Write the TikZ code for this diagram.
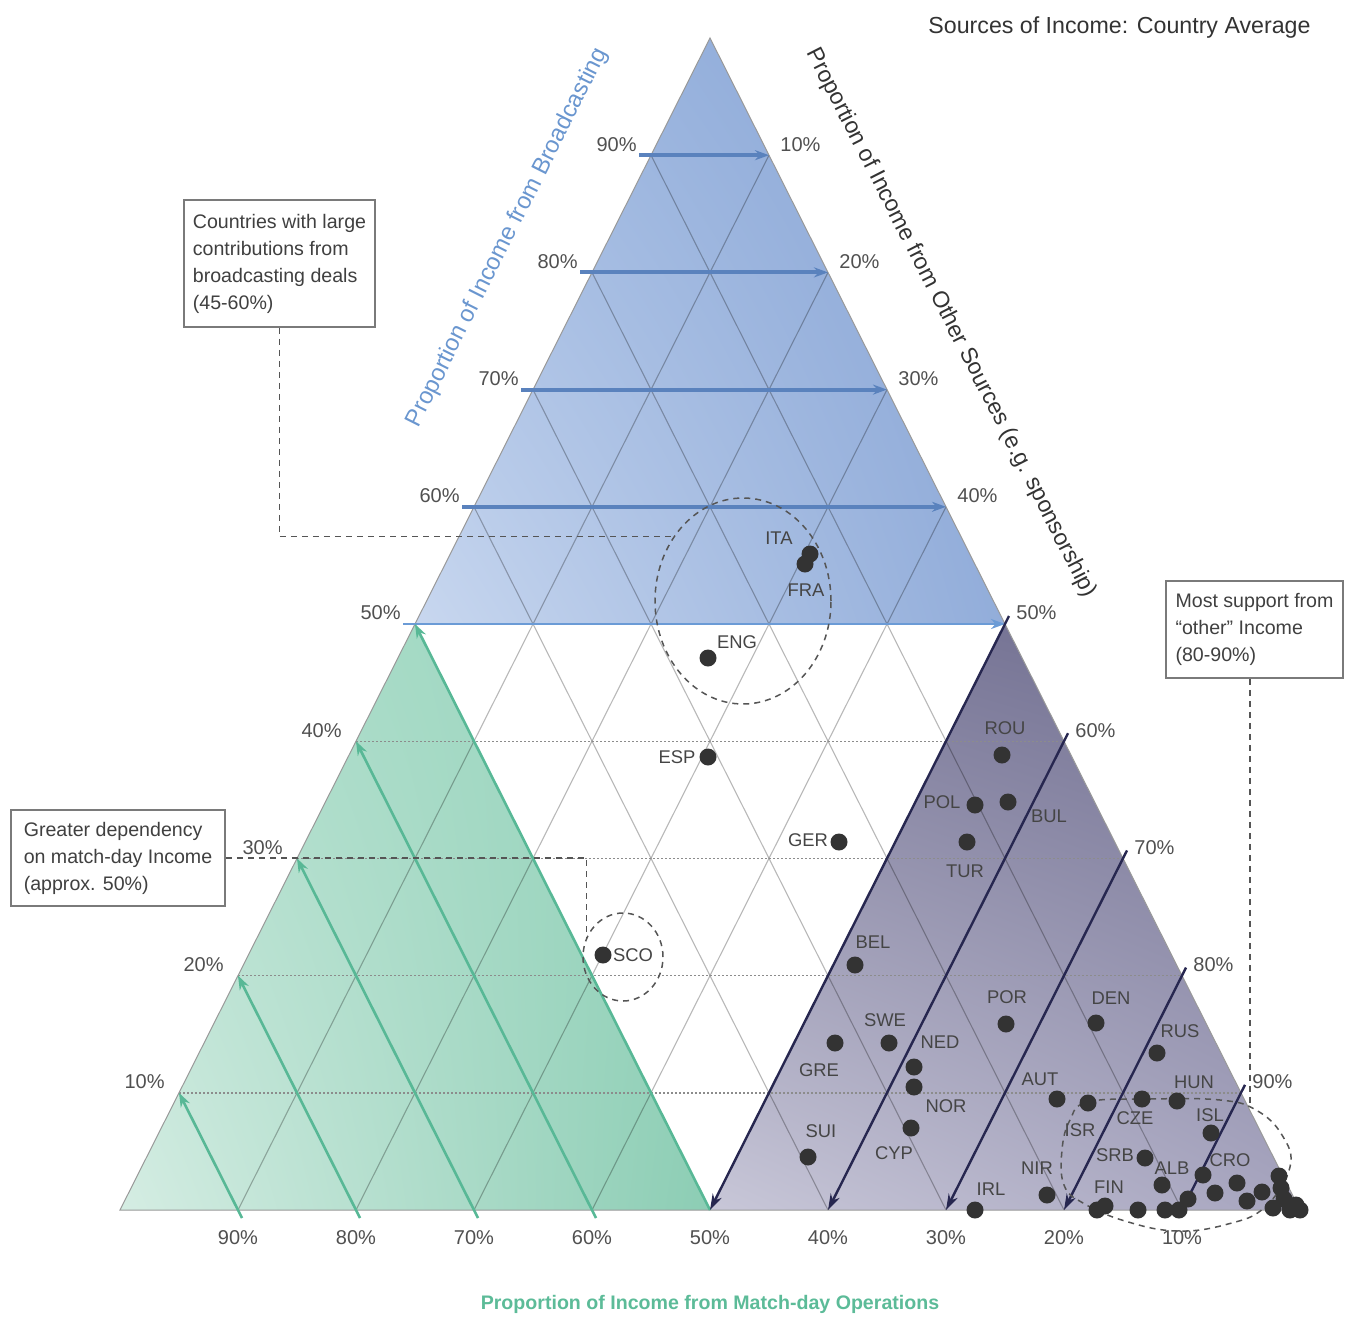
\documentclass[tikz,border=0pt]{standalone}
\usepackage{fontspec}
\setmainfont{Liberation Sans}
\usetikzlibrary{arrows.meta,shapes.geometric,calc,shadings}
\definecolor{blueaxis}{HTML}{5A82BD}
\definecolor{blueaxistwo}{HTML}{6B9BD6}
\definecolor{greenaxis}{HTML}{58B896}
\definecolor{navyaxis}{HTML}{272750}
\definecolor{pcttext}{HTML}{505050}
\definecolor{labtext}{HTML}{454545}
\definecolor{dotcol}{HTML}{333333}
\definecolor{boxline}{HTML}{7A7A7A}
\definecolor{boxtext}{HTML}{404040}
\definecolor{dashcol}{HTML}{555555}
\definecolor{bluelabel}{HTML}{6A96CF}
\definecolor{greenlabel}{HTML}{5CBB98}
\definecolor{titletext}{HTML}{333333}
\definecolor{bUL}{HTML}{A3BCE3}
\definecolor{bUR}{HTML}{86A3D4}
\definecolor{bLL}{HTML}{C8D7EF}
\definecolor{bLR}{HTML}{92ADDA}
\definecolor{gUL}{HTML}{B2DFCD}
\definecolor{gUR}{HTML}{96D4BC}
\definecolor{gLL}{HTML}{D5EDE3}
\definecolor{gLR}{HTML}{8CCDB4}
\definecolor{pUL}{HTML}{7F7D9C}
\definecolor{pUR}{HTML}{6E6C8E}
\definecolor{pLL}{HTML}{C8C7D8}
\definecolor{pLR}{HTML}{A7A5BF}
\begin{document}
\begin{tikzpicture}[x=0.5pt,y=-0.5pt,
  gridline/.style={draw=black,draw opacity=0.28,line width=0.55pt},
  hdot/.style={draw=black!45,line width=0.7pt,dash pattern=on 1pt off 1pt},
  bluearr/.style={draw=blueaxis,line width=2pt,-{Stealth[length=7pt,width=5pt]}},
  greenarr/.style={draw=greenaxis,line width=1.3pt,-{Stealth[length=7pt,width=5pt]}},
  purparr/.style={draw=navyaxis,line width=1.2pt,-{Stealth[length=8pt,width=5pt]}},
  pct/.style={font=\fontsize{10}{12}\selectfont,text=pcttext,inner sep=0pt},
  clab/.style={font=\fontsize{9.2}{11}\selectfont,text=labtext,inner sep=0pt},
  dotn/.style={circle,fill=dotcol,minimum size=8.5pt,inner sep=0pt},
  note/.style={draw=boxline,line width=0.8pt,fill=white,align=left,text=boxtext,font=\fontsize{9.8}{13.5}\selectfont,inner sep=0pt},
  conn/.style={draw=dashcol,line width=0.75pt,dash pattern=on 3pt off 2.5pt},
  ring/.style={ellipse,draw=dashcol,line width=0.75pt,dash pattern=on 3pt off 2.5pt,inner sep=0pt}
]
\useasboundingbox (0,0) rectangle (1354,1317);

% grid coordinates
\foreach \i in {0,...,10} {
  \coordinate (L\i) at ({710-59*\i},{38+117.2*\i});
  \coordinate (R\i) at ({710+59*\i},{38+117.2*\i});
  \coordinate (B\i) at ({120+118*\i},1210);
}

% coloured triangles
\shade[upper left=bUL,upper right=bUR,lower left=bLL,lower right=bLR] (L0) -- (L5) -- (R5) -- cycle;
\shade[upper left=gUL,upper right=gUR,lower left=gLL,lower right=gLR] (L5) -- (B0) -- (B5) -- cycle;
\shade[upper left=pUL,upper right=pUR,lower left=pLL,lower right=pLR] (R5) -- (B5) -- (B10) -- cycle;

% grid lines
\foreach \k in {1,...,9} {
  \pgfmathtruncatemacro\m{10-\k}
  \draw[gridline] (B\k) -- (R\k);
  \draw[gridline] (B\k) -- (L\m);
}
\foreach \k in {6,...,9} {
  \draw[hdot] (L\k) -- (R\k);
}
\draw[draw=black!40,line width=0.5pt] (L0) -- (B0) -- (B10) -- cycle;

% axis arrows
\foreach \k in {1,...,4} {
  \draw[bluearr] ($(L\k)+(-12,0)$) -- (R\k);
}
\draw[bluearr,draw=blueaxistwo,line width=1.1pt] ($(L5)+(-12,0)$) -- (R5);
\foreach \j in {1,...,4} {
  \pgfmathtruncatemacro\m{10-\j}
  \draw[greenarr] ($(B\j)+(4,8)$) -- (L\m);
}
\draw[greenarr] (B5) -- (L5);
\foreach \j in {5,...,9} {
  \draw[purparr] ($(R\j)+(4,-8)$) -- (B\j);
}

% percentage labels
\foreach \r in {1,...,9} {
  \pgfmathtruncatemacro\lv{100-10*\r}
  \pgfmathtruncatemacro\rv{10*\r}
  \node[pct,anchor=east] (ll\r) at ($(L\r)+(-14,-11)$) {\lv\%};
  \node[pct,anchor=west] (rl\r) at ($(R\r)+(11,-11)$) {\rv\%};
  \node[pct] (bl\r) at ($(B\r)+(0,28)$) {\lv\%};
}

% titles
\node[anchor=base west,font=\fontsize{11.6}{14}\selectfont,text=titletext,inner sep=0pt] (title) at (928,33) {Sources of Income: Country Average};
\node[rotate=63.3,text=bluelabel,font=\fontsize{11.9}{14}\selectfont,inner sep=0pt] (axb) at (507.5,237.5) {Proportion of Income from Broadcasting};
\node[rotate=-63,text=titletext,font=\fontsize{11.5}{14}\selectfont,inner sep=0pt] (axo) at (951,323) {Proportion of Income from Other Sources (e.g. sponsorship)};
\node[font=\bfseries\fontsize{9.8}{12}\selectfont,text=greenlabel,inner sep=0pt] (axm) at (710,1304) {Proportion of Income from Match-day Operations};

% highlight rings
\node[ring,minimum width=88pt,minimum height=103pt] (e1) at (743,601) {};
\node[ring,minimum width=40pt,minimum height=44pt] (e2) at (623,957) {};
\draw[conn] plot[smooth cycle,tension=0.7] coordinates {(1088,1102) (1150,1099) (1220,1100) (1256,1110) (1282,1135) (1290,1167) (1265,1207) (1228,1224) (1177,1231) (1125,1221) (1083,1203) (1064,1185) (1062,1150) (1070,1120)};
\coordinate (e3top) at (1250,1104);

% note boxes
\node[note,minimum width=95.5pt,minimum height=63.5pt] (box1) at (279.5,263.5) {Countries with large\\contributions from\\broadcasting deals\\(45-60\%)};
\node[note,minimum width=107pt,minimum height=48pt] (box2) at (118,858) {Greater dependency\\on match-day Income\\(approx. 50\%)};
\node[note,minimum width=88.5pt,minimum height=48.5pt] (box3) at (1254.5,629.5) {Most support from\\“other” Income\\(80-90\%)};

\draw[conn] (box1.south) |- (e1.137);
\draw[conn] (box2.east) -| (e2.152);
\draw[conn] (box3.south -| e3top) -- (e3top);

% data points
\foreach \n/\x/\y in {ita/810/554, fra/805/564, eng/708/658, esp/708/757, ger/839/842, sco/603/955,
  rou/1002/755, pol/975/805, bul/1008/802, tur/967/842, bel/855/965, por/1006/1024, den/1096/1023,
  gre/835/1043, swe/889/1043, ned/914/1067, nor/914/1087, cyp/911/1128, sui/808/1157, aut/1057/1099,
  rus/1157/1053, isr/1088/1103, cze/1142/1099, hun/1177/1101, isl/1211/1133, srb/1145/1158,
  alb/1162/1185, cro/1203/1175, nir/1047/1195, irl/975/1210, fin/1097/1210} {
  \node[dotn] (d-\n) at (\x,\y) {};
}
\foreach \x/\y [count=\c] in {1105/1206, 1138/1210, 1165/1210, 1179/1210, 1188/1199, 1215/1193,
  1237/1183, 1247/1201, 1262/1192, 1279/1176, 1273/1208, 1284/1199, 1290/1210, 1300/1210, 1281/1188, 1296/1205} {
  \node[dotn] (x\c) at (\x,\y) {};
}
\foreach \n/\t/\x/\y in {ita/ITA/779/538, fra/FRA/806/590, eng/ENG/737/642, esp/ESP/677/757,
  ger/GER/808/840, sco/SCO/633/955, rou/ROU/1005/728, pol/POL/942/802, bul/BUL/1049/816,
  tur/TUR/965/871, bel/BEL/873/942, por/POR/1007/997, den/DEN/1111/998, gre/GRE/819/1070,
  swe/SWE/885/1020, ned/NED/940/1042, nor/NOR/946/1106, cyp/CYP/894/1153, sui/SUI/821/1131,
  aut/AUT/1040/1079, rus/RUS/1180/1031, hun/HUN/1194/1082, isr/ISR/1080/1130, cze/CZE/1135/1118,
  isl/ISL/1210/1115, srb/SRB/1115/1155, alb/ALB/1172/1168, cro/CRO/1230/1160, nir/NIR/1037/1168,
  irl/IRL/991/1189, fin/FIN/1109/1187} {
  \node[clab] (t-\n) at (\x,\y) {\t};
}
\end{tikzpicture}
\end{document}
